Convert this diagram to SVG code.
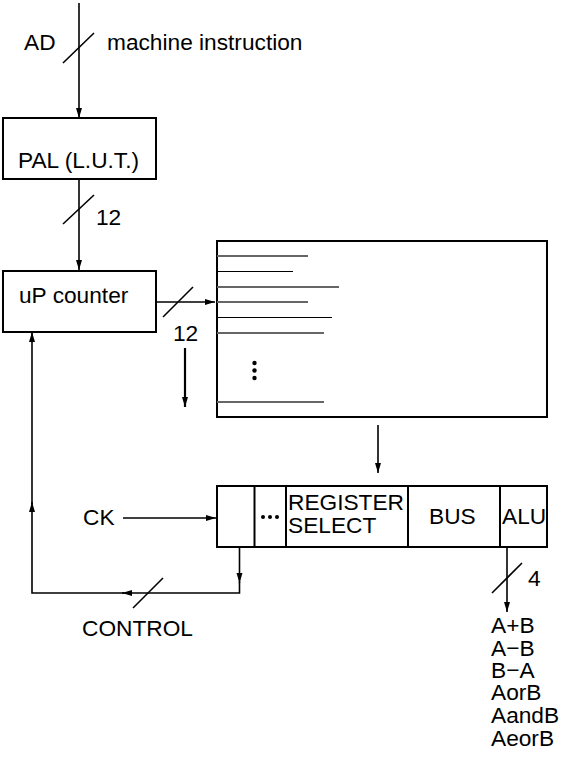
<svg xmlns="http://www.w3.org/2000/svg" width="564" height="757" viewBox="0 0 564 757">
<defs>
<marker id="ah" markerUnits="userSpaceOnUse" markerWidth="11" markerHeight="8" refX="10" refY="3.5" orient="auto">
<path d="M0,0.5 L10,3.5 L0,6.5 z" fill="#000"/>
</marker>
</defs>
<style>
text{font-family:"Liberation Sans",Arial,sans-serif;font-size:22.7px;fill:#000}
.box{fill:none;stroke:#000;stroke-width:2}
.ln{fill:none;stroke:#000;stroke-width:1.6}
.sl{fill:none;stroke:#000;stroke-width:1.6}
.row{stroke:#000;stroke-width:1}
.rowg{stroke:#666;stroke-width:2}
</style>
<rect width="564" height="757" fill="#fff"/>

<g id="connectors">
<path class="ln" d="M79,3 V118" marker-end="url(#ah)"/>
<line class="sl" x1="63" y1="63" x2="94" y2="33"/>
<path class="ln" d="M79,179 V270" marker-end="url(#ah)"/>
<line class="sl" x1="63" y1="224" x2="94" y2="195"/>
<path class="ln" d="M156,302 H215" marker-end="url(#ah)"/>
<line class="sl" x1="163" y1="317" x2="193" y2="287"/>
<path fill="none" stroke="#000" stroke-width="2.2" d="M185,348 V407" marker-end="url(#ah)"/>
<path class="ln" d="M378,425 V473" marker-end="url(#ah)"/>
<path class="ln" d="M123,518 H216" marker-end="url(#ah)"/>
<path class="ln" d="M239.5,547 V583" marker-end="url(#ah)"/>
<path class="ln" d="M239.5,582 V593 H122" marker-end="url(#ah)"/>
<path class="ln" d="M124,593 H32 V502" marker-end="url(#ah)"/>
<path class="ln" d="M32,504 V332" marker-end="url(#ah)"/>
<line class="sl" x1="133" y1="608" x2="163" y2="578"/>
<path class="ln" d="M507,547 V612" marker-end="url(#ah)"/>
<line class="sl" x1="492" y1="593" x2="522" y2="563"/>
</g>

<g id="labels">
<text x="24" y="50">AD</text>
<text x="107" y="50">machine instruction</text>
<text x="96" y="225">12</text>
<text x="173" y="341">12</text>
<text x="83" y="525">CK</text>
<text x="82" y="636">CONTROL</text>
<text x="528" y="586">4</text>
<text x="491" y="633">A+B</text>
<text x="491" y="656">A−B</text>
<text x="491" y="678">B−A</text>
<text x="491" y="700">AorB</text>
<text x="491" y="723">AandB</text>
<text x="491" y="746">AeorB</text>
</g>

<g id="pal">
<rect class="box" x="3" y="118" width="153" height="61"/>
<text x="18" y="168">PAL (L.U.T.)</text>
</g>

<g id="counter">
<rect class="box" x="3" y="271" width="153" height="61"/>
<text x="19" y="303">uP counter</text>
</g>

<g id="memory">
<rect class="box" x="217" y="241" width="330" height="176"/>
<line class="rowg" x1="217" y1="256" x2="308" y2="256"/>
<line class="row" x1="217" y1="271.5" x2="293" y2="271.5"/>
<line class="rowg" x1="217" y1="287" x2="339" y2="287"/>
<line class="rowg" x1="217" y1="302" x2="308" y2="302"/>
<line class="row" x1="217" y1="317.5" x2="332" y2="317.5"/>
<line class="rowg" x1="217" y1="333" x2="324" y2="333"/>
<line class="rowg" x1="217" y1="402" x2="324" y2="402"/>
<circle cx="254.5" cy="363" r="2.2"/>
<circle cx="254.5" cy="370.5" r="2.2"/>
<circle cx="254.5" cy="378" r="2.2"/>
</g>

<g id="microword">
<rect class="box" x="217" y="486" width="330" height="61"/>
<line class="box" x1="254.5" y1="486" x2="254.5" y2="547"/>
<line class="box" x1="286" y1="486" x2="286" y2="547"/>
<line class="box" x1="408" y1="486" x2="408" y2="547"/>
<line class="box" x1="500" y1="486" x2="500" y2="547"/>
<circle cx="263" cy="517" r="2"/>
<circle cx="270" cy="517" r="2"/>
<circle cx="277" cy="517" r="2"/>
<text x="288" y="510">REGISTER</text>
<text x="288" y="533">SELECT</text>
<text x="429" y="524">BUS</text>
<text x="502" y="524">ALU</text>
</g>
</svg>
